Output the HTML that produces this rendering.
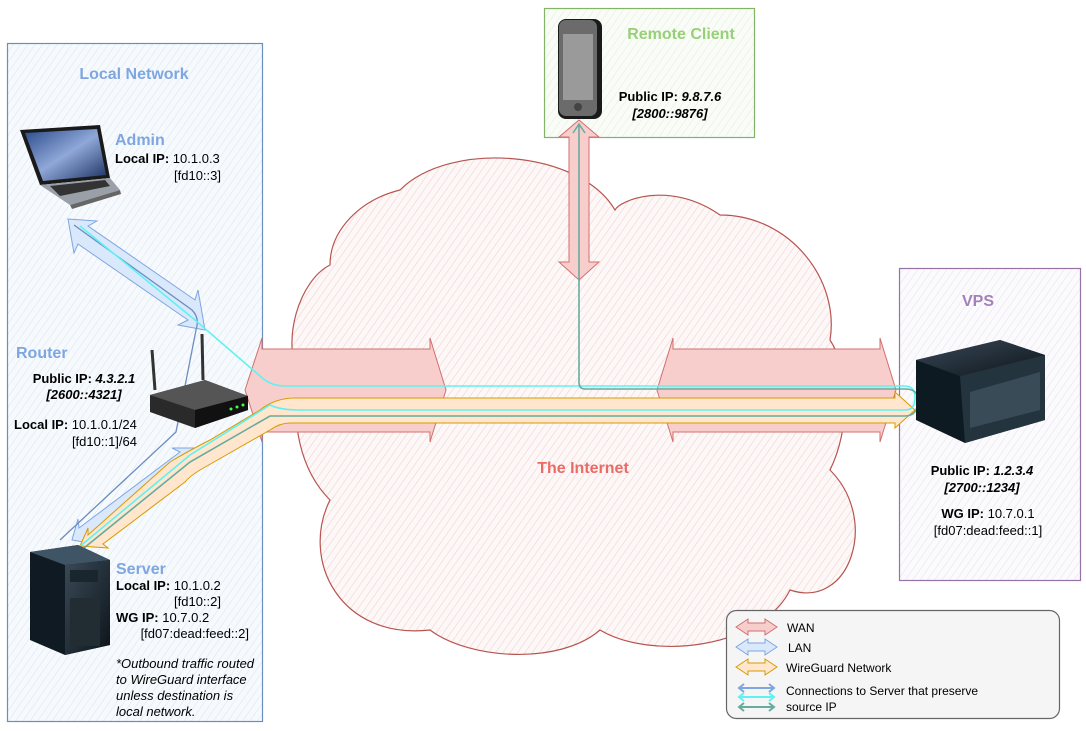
<!DOCTYPE html>
<html><head><meta charset="utf-8"><style>
html,body{margin:0;padding:0;background:#fff;}
svg{display:block;font-family:"Liberation Sans",Arial,sans-serif;}
</style></head><body>
<svg width="1086" height="731" viewBox="0 0 1086 731" xmlns="http://www.w3.org/2000/svg">
<defs>
<pattern id="hb" width="6" height="6" patternUnits="userSpaceOnUse" patternTransform="rotate(35)">
<rect width="6" height="6" fill="#f7fafd"/><line x1="0" y1="0" x2="0" y2="6" stroke="#dae5f4" stroke-width="1.1"/></pattern>
<pattern id="hr" width="6" height="6" patternUnits="userSpaceOnUse" patternTransform="rotate(35)">
<rect width="6" height="6" fill="#fdf8f8"/><line x1="0" y1="0" x2="0" y2="6" stroke="#f5cdcb" stroke-width="1.1"/></pattern>
<pattern id="hg" width="6" height="6" patternUnits="userSpaceOnUse" patternTransform="rotate(35)">
<rect width="6" height="6" fill="#fafcf8"/><line x1="0" y1="0" x2="0" y2="6" stroke="#e4eede" stroke-width="1.1"/></pattern>
<pattern id="hp" width="6" height="6" patternUnits="userSpaceOnUse" patternTransform="rotate(35)">
<rect width="6" height="6" fill="#fbfafd"/><line x1="0" y1="0" x2="0" y2="6" stroke="#e8e2ef" stroke-width="1.1"/></pattern>
<linearGradient id="dk" x1="0" y1="0" x2="1" y2="1"><stop offset="0" stop-color="#3a4a58"/><stop offset="1" stop-color="#0d141a"/></linearGradient>
<linearGradient id="scr" x1="0" y1="0" x2="1" y2="1"><stop offset="0" stop-color="#2a4a8a"/><stop offset="0.5" stop-color="#8fa8d8"/><stop offset="1" stop-color="#1b2f60"/></linearGradient>
</defs>

<rect x="7.5" y="43.5" width="255" height="678" fill="url(#hb)" stroke="#6c8ebf" stroke-width="1.2"/>
<rect x="544.5" y="8.5" width="210" height="129" fill="url(#hg)" stroke="#82b366" stroke-width="1.2"/>
<rect x="899.5" y="268.5" width="181" height="312" fill="url(#hp)" stroke="#9673a6" stroke-width="1.2"/>

<path d="M 330 265 C 300 280 280 340 300 380 C 290 420 300 470 330 500 C 300 560 340 640 430 630 C 470 660 560 665 600 630 C 650 660 760 650 790 590 C 850 610 880 520 830 470 C 850 430 850 370 830 340 C 840 280 790 215 720 215 C 670 180 620 200 615 210 C 580 150 450 140 400 190 C 360 200 330 230 330 265 Z" fill="url(#hr)" stroke="#b85450" stroke-width="1.2"/>

<path d="M 245 390 L 262 338 L 262 349 L 430 349 L 430 338 L 446 390 L 430 442 L 430 432 L 262 432 L 262 442 Z" fill="#f8cecc" stroke="#d07070" stroke-width="1"/>
<path d="M 657 390 L 673 338 L 673 349 L 880 349 L 880 338 L 896 390 L 880 442 L 880 432 L 673 432 L 673 442 Z" fill="#f8cecc" stroke="#d07070" stroke-width="1"/>
<path d="M 579 120 L 599 137 L 589 137 L 589 262 L 599 262 L 579 280 L 559 262 L 569 262 L 569 137 L 559 137 Z" fill="#f8cecc" stroke="#d07070" stroke-width="1"/>

<path d="M 68 219 L 97 221 L 88 226 L 195 300 L 198 290 L 205 330 L 178 325 L 188 320 L 78 244 L 74 253 Z" fill="#dae8fc" stroke="#7ea6e0" stroke-width="1"/>
<path d="M 72 540 L 78 519 L 79 528 L 180 452 L 172 448 L 200 448 L 198 470 L 193 462 L 92 538 L 100 545 Z" fill="#dae8fc" stroke="#7ea6e0" stroke-width="1"/>
<path d="M 74 225 L 192 310 Q 200 318 196 330 L 176 432 L 60 540" fill="none" stroke="#6c8ebf" stroke-width="1.3"/>

<path d="M 80 546 L 88 528 L 88 535 L 170 462 Q 190 450 210 440 L 260 410 Q 275 398 295 398 L 895 398 L 895 392 L 915 410 L 895 428 L 895 423 L 290 423 Q 280 423 270 430 L 200 470 Q 190 476 185 482 L 103 544 L 108 548 Z" fill="#ffe6cc" stroke="#d79b00" stroke-width="1"/>

<path d="M 78 548 L 190 455 L 270 405 Q 280 410 300 410 L 905 410 Q 915 410 915 398 Q 915 386 905 386 L 285 386 Q 270 386 260 376 L 195 320 L 80 226" fill="none" stroke="#5ff2f2" stroke-width="1.6"/>
<path d="M 84 548 L 190 462 L 270 416 Q 280 416 300 416 L 905 416 Q 918 416 918 400 Q 918 389 905 389 L 585 389 Q 579 389 579 382 L 579 125" fill="none" stroke="#67ab9f" stroke-width="1.6"/>
<path d="M 573 133 L 579 124 L 585 133" fill="none" stroke="#67ab9f" stroke-width="1.5"/>

<polygon points="20,130 100,125 110,178 40,185" fill="#1a1a1a"/>
<polygon points="25,133 97,129 106,175 43,181" fill="url(#scr)"/>
<polygon points="40,185 110,178 120,190 70,205" fill="#9aa0a8"/>
<polygon points="50,186 105,180 110,186 60,196" fill="#333"/>
<polygon points="70,205 120,190 121,194 72,209" fill="#666"/>

<line x1="155" y1="390" x2="152" y2="350" stroke="#333" stroke-width="3"/>
<line x1="203" y1="380" x2="202" y2="334" stroke="#333" stroke-width="3"/>
<polygon points="150,395 205,380 248,396 248,410 195,428 150,412" fill="#2a2a2a"/>
<polygon points="150,395 205,380 248,396 195,410" fill="#555"/>
<polygon points="195,410 248,396 248,410 195,428" fill="#111"/>
<circle cx="231" cy="409" r="1.5" fill="#4f4"/><circle cx="237" cy="407" r="1.5" fill="#4f4"/><circle cx="243" cy="405" r="1.5" fill="#4f4"/>

<polygon points="30,552 78,545 110,560 110,645 65,655 30,640" fill="#0f1a22"/>
<polygon points="30,552 78,545 110,560 65,565" fill="#3f5566"/>
<polygon points="65,565 110,560 110,645 65,655" fill="url(#dk)"/>
<rect x="70" y="570" width="28" height="12" fill="#1a262e"/>
<rect x="70" y="598" width="30" height="48" fill="#222c33"/>

<rect x="558" y="19" width="44" height="100" rx="8" fill="#1a1a1a"/>
<rect x="559" y="20" width="38" height="96" rx="7" fill="#6b6b6b"/>
<rect x="563" y="34" width="30" height="66" fill="#9a9a9a"/>
<circle cx="578" cy="107" r="4" fill="#444"/>

<polygon points="916,360 1000,340 1045,355 1045,420 965,443 916,420" fill="#0e1a22"/>
<polygon points="916,360 1000,340 1045,355 960,376" fill="url(#dk)"/>
<polygon points="960,376 1045,355 1045,420 965,443" fill="#24343f"/>
<polygon points="970,392 1040,372 1040,410 970,428" fill="#3a4b58"/>

<rect x="726.5" y="610.5" width="333" height="108" rx="10" fill="#f5f5f5" stroke="#666" stroke-width="1.2"/>
<path d="M 736 627 L 748 619 L 748 623 L 765 623 L 765 619 L 777 627 L 765 635 L 765 631 L 748 631 L 748 635 Z" fill="#f8cecc" stroke="#d07070"/>
<path d="M 736 647 L 748 639 L 748 643 L 765 643 L 765 639 L 777 647 L 765 655 L 765 651 L 748 651 L 748 655 Z" fill="#dae8fc" stroke="#7ea6e0"/>
<path d="M 736 667 L 748 659 L 748 663 L 765 663 L 765 659 L 777 667 L 765 675 L 765 671 L 748 671 L 748 675 Z" fill="#ffe6cc" stroke="#d79b00"/>
<g fill="none" stroke-width="2">
<path d="M 739 688 L 774 688 M 744 684 L 739 688 L 744 692 M 769 684 L 774 688 L 769 692" stroke="#7ea6e0"/>
<path d="M 739 697 L 774 697 M 744 693 L 739 697 L 744 701 M 769 693 L 774 697 L 769 701" stroke="#5ff2f2"/>
<path d="M 739 707 L 774 707 M 744 703 L 739 707 L 744 711 M 769 703 L 774 707 L 769 711" stroke="#67ab9f"/>
</g>
<g font-size="12" fill="#000">
<text x="787" y="632">WAN</text>
<text x="788" y="652">LAN</text>
<text x="786" y="672">WireGuard Network</text>
<text x="786" y="695">Connections to Server that preserve</text>
<text x="786" y="711">source IP</text>
</g>

<g font-weight="bold" font-size="16">
<text x="134" y="79" text-anchor="middle" fill="#7ea6e0">Local Network</text>
<text x="115" y="145" fill="#7ea6e0">Admin</text>
<text x="16" y="358" fill="#7ea6e0">Router</text>
<text x="116" y="574" fill="#7ea6e0">Server</text>
<text x="681" y="39" text-anchor="middle" fill="#97d077">Remote Client</text>
<text x="978" y="306" text-anchor="middle" fill="#a680b8">VPS</text>
<text x="583" y="473" text-anchor="middle" fill="#ea6b66">The Internet</text>
</g>
<g font-size="13" fill="#000">
<text x="115" y="163"><tspan font-weight="bold">Local IP:</tspan> 10.1.0.3</text>
<text x="221" y="180" text-anchor="end">[fd10::3]</text>
<text x="84" y="383" text-anchor="middle" font-weight="bold">Public IP: <tspan font-style="italic">4.3.2.1</tspan></text>
<text x="84" y="399" text-anchor="middle" font-weight="bold" font-style="italic">[2600::4321]</text>
<text x="14" y="429"><tspan font-weight="bold">Local IP:</tspan> 10.1.0.1/24</text>
<text x="137" y="446" text-anchor="end">[fd10::1]/64</text>
<text x="116" y="590"><tspan font-weight="bold">Local IP:</tspan> 10.1.0.2</text>
<text x="221" y="606" text-anchor="end">[fd10::2]</text>
<text x="116" y="622"><tspan font-weight="bold">WG IP:</tspan> 10.7.0.2</text>
<text x="249" y="638" text-anchor="end">[fd07:dead:feed::2]</text>
<g font-style="italic">
<text x="116" y="668">*Outbound traffic routed</text>
<text x="116" y="684">to WireGuard interface</text>
<text x="116" y="700">unless destination is</text>
<text x="116" y="716">local network.</text>
</g>
<text x="670" y="101" text-anchor="middle" font-weight="bold">Public IP: <tspan font-style="italic">9.8.7.6</tspan></text>
<text x="670" y="118" text-anchor="middle" font-weight="bold" font-style="italic">[2800::9876]</text>
<text x="982" y="475" text-anchor="middle" font-weight="bold">Public IP: <tspan font-style="italic">1.2.3.4</tspan></text>
<text x="982" y="492" text-anchor="middle" font-weight="bold" font-style="italic">[2700::1234]</text>
<text x="988" y="518" text-anchor="middle"><tspan font-weight="bold">WG IP:</tspan> 10.7.0.1</text>
<text x="988" y="535" text-anchor="middle">[fd07:dead:feed::1]</text>
</g>
</svg>
</body></html>
